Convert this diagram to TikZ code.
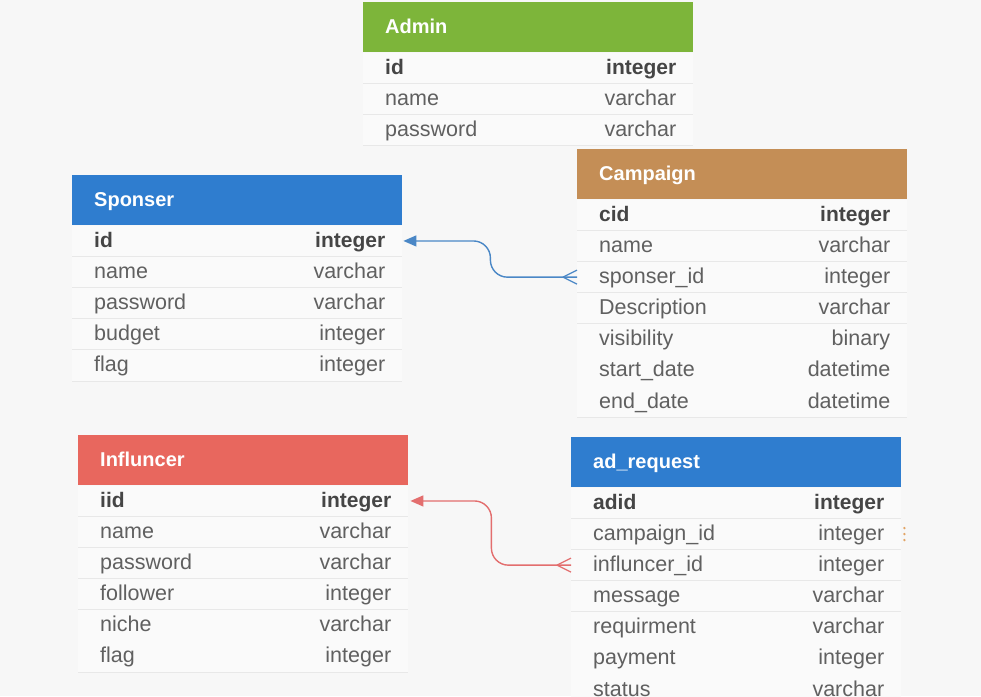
\documentclass[tikz,border=0pt]{standalone}
\usepackage{fontspec}
\setmainfont{Liberation Sans}
\usetikzlibrary{arrows.meta,positioning,calc}
\definecolor{bgc}{HTML}{F7F7F7}
\definecolor{rowc}{HTML}{FAFAFA}
\definecolor{sepc}{HTML}{E8E8E8}
\definecolor{txtc}{HTML}{606060}
\definecolor{pkc}{HTML}{454545}
\definecolor{admc}{HTML}{7DB53A}
\definecolor{spc}{HTML}{2F7DCF}
\definecolor{cpc}{HTML}{C48E56}
\definecolor{inc}{HTML}{E8675E}
\definecolor{adc}{HTML}{2F7DCF}
\definecolor{bluel}{HTML}{4A87C6}
\definecolor{redl}{HTML}{E36E6E}
\definecolor{dotc}{HTML}{E2A464}
\tikzset{
  hdr/.style={anchor=north west, minimum width=330pt, minimum height=50pt, inner sep=0pt, draw=none},
  htxt/.style={anchor=west, inner sep=0pt, text height=15pt, text depth=3pt, text=white, font=\fontsize{20}{24}\selectfont\bfseries},
  rowbox/.style={minimum width=330pt, minimum height=30.7pt, inner sep=0pt, fill=rowc, draw=none},
  ftxt/.style={anchor=west, inner sep=0pt, text height=16.5pt, text depth=3.5pt, text=txtc, font=\fontsize{21.5}{25}\selectfont},
  ttxt/.style={anchor=east, inner sep=0pt, text height=16.5pt, text depth=3.5pt, text=txtc, font=\fontsize{21.5}{25}\selectfont},
  pk/.style={text=pkc, font=\fontsize{21}{25}\selectfont\bfseries},
  sepl/.style={draw=sepc, line width=0.8pt},
  rel/.style={line width=1.4pt, rounded corners=17pt},
}
% #1 name, #2 node above, #3 field, #4 type, #5 extra style
\newcommand\erow[5]{%
  \node[rowbox, below=0pt of #2] (#1) {};
  \draw[sepl] (#1.south west) -- (#1.south east);
  \node[ftxt,#5] (#1f) at ([xshift=22pt]#1.west) {#3};
  \node[ttxt,#5] (#1t) at ([xshift=-17pt]#1.east) {#4};
}
% #1 name, #2 x, #3 y, #4 colour, #5 title
\newcommand\ehead[5]{%
  \node[hdr, fill=#4] (#1) at (#2,#3) {};
  \node[htxt] (#1t) at ([xshift=22pt]#1.west) {#5};
}
\begin{document}
\begin{tikzpicture}[x=1pt,y=-1pt]
\useasboundingbox[fill=bgc] (0,0) rectangle (981,696);

% Admin
\ehead{adm}{363}{2}{admc}{Admin}
\erow{adm1}{adm}{id}{integer}{pk}
\erow{adm2}{adm1}{name}{varchar}{}
\erow{adm3}{adm2}{password}{varchar}{}

% Sponser
\ehead{sp}{72}{175}{spc}{Sponser}
\erow{sp1}{sp}{id}{integer}{pk}
\erow{sp2}{sp1}{name}{varchar}{}
\erow{sp3}{sp2}{password}{varchar}{}
\erow{sp4}{sp3}{budget}{integer}{}
\erow{sp5}{sp4}{flag}{integer}{}

% Campaign
\ehead{cp}{577}{149}{cpc}{Campaign}
\erow{cp1}{cp}{cid}{integer}{pk}
\erow{cp2}{cp1}{name}{varchar}{}
\erow{cp3}{cp2}{sponser\_id}{integer}{}
\erow{cp4}{cp3}{Description}{varchar}{}
\erow{cp5}{cp4}{visibility}{binary}{}
\erow{cp6}{cp5}{start\_date}{datetime}{}
\erow{cp7}{cp6}{end\_date}{datetime}{}

% Influncer
\ehead{in}{78}{435}{inc}{Influncer}
\erow{in1}{in}{iid}{integer}{pk}
\erow{in2}{in1}{name}{varchar}{}
\erow{in3}{in2}{password}{varchar}{}
\erow{in4}{in3}{follower}{integer}{}
\erow{in5}{in4}{niche}{varchar}{}
\erow{in6}{in5}{flag}{integer}{}

% ad_request
\ehead{ad}{571}{437}{adc}{ad\_request}
\erow{ad1}{ad}{adid}{integer}{pk}
\erow{ad2}{ad1}{campaign\_id}{integer}{}
\erow{ad3}{ad2}{influncer\_id}{integer}{}
\erow{ad4}{ad3}{message}{varchar}{}
\erow{ad5}{ad4}{requirment}{varchar}{}
\erow{ad6}{ad5}{payment}{integer}{}
\erow{ad7}{ad6}{status}{varchar}{}

% relation Campaign.sponser_id -> Sponser.id
\draw[rel, draw=bluel, {Triangle[length=13pt,width=11pt]}-] ([xshift=1pt]sp1.east) -- ++(87,0) |- (cp3.west);
\draw[line width=1.2pt, draw=bluel] ([xshift=-14pt]cp3.west) -- ([yshift=-7pt]cp3.west)
  ([xshift=-14pt]cp3.west) -- ([yshift=7pt]cp3.west);

% relation ad_request.influncer_id -> Influncer.iid
\draw[rel, draw=redl, {Triangle[length=13pt,width=11pt]}-] ([xshift=2pt]in1.east) -- ++(81,0) |- (ad3.west);
\draw[line width=1.2pt, draw=redl] ([xshift=-14pt]ad3.west) -- ([yshift=-7pt]ad3.west)
  ([xshift=-14pt]ad3.west) -- ([yshift=7pt]ad3.west);

% handle dots
\foreach \d in {-6,0,6}
  \fill[dotc] ([xshift=3pt,yshift=\d pt]ad2.east) circle (1.3pt);
\end{tikzpicture}
\end{document}
